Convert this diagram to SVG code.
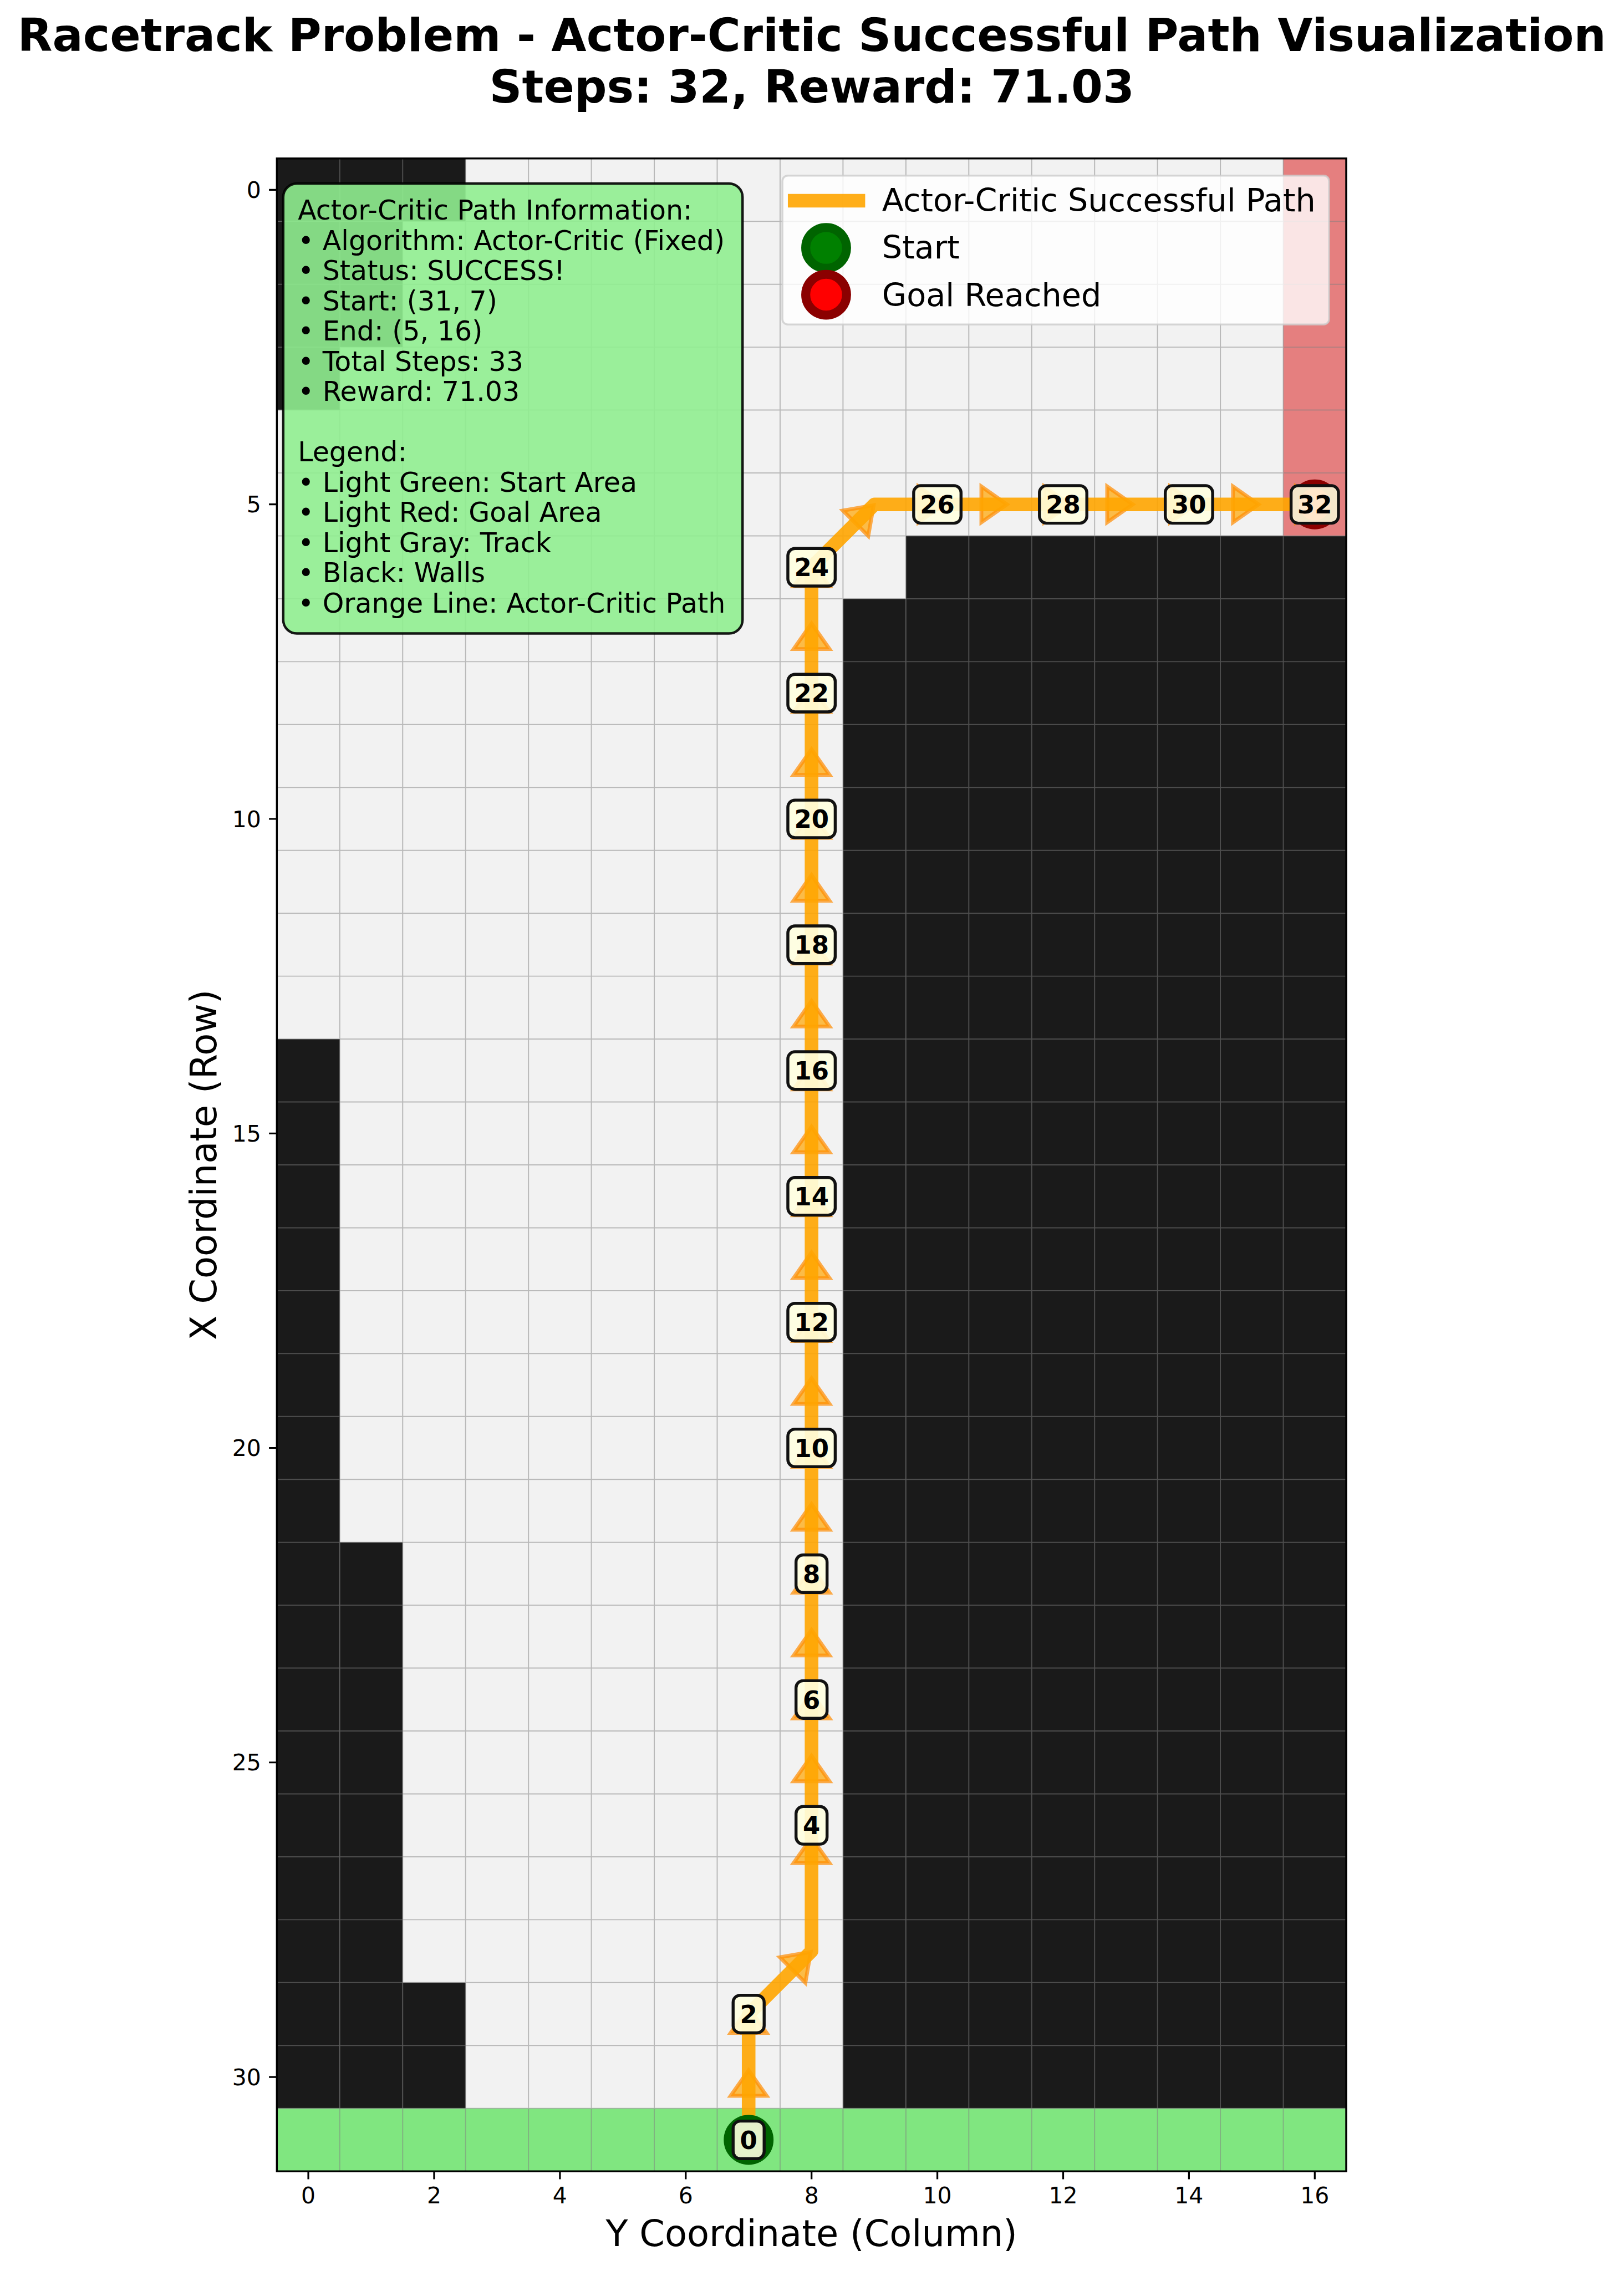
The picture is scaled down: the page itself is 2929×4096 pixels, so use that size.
<svg xmlns="http://www.w3.org/2000/svg" xmlns:xlink="http://www.w3.org/1999/xlink" width="2929" height="4096" viewBox="0 0 2929 4096">
<style>
text{font-family:"DejaVu Sans","Liberation Sans",sans-serif;fill:#000}
.title{font-size:83.3px;font-weight:bold;text-anchor:middle}
.axl{font-size:66.7px;text-anchor:middle}
.tk{font-size:41.7px}
.tky{text-anchor:end}
.tkx{text-anchor:middle}
.wall{fill:#1a1a1a}
.grid{stroke:#808080;stroke-opacity:0.5;stroke-width:2;fill:none}
.tick{stroke:#000;stroke-width:3.3}
.ah{fill:#FFA500;fill-opacity:0.7;stroke:#FF8C00;stroke-opacity:0.7;stroke-width:7;stroke-linejoin:miter}
.path{fill:none;stroke:#FFA500;stroke-opacity:0.9;stroke-width:25;stroke-linejoin:round}
.lb rect{fill:#FFFFE0;fill-opacity:0.9;stroke:#111;stroke-width:5.5}
.lb text{font-size:45.8px;font-weight:bold;text-anchor:middle}
.info{font-size:50px}
.leg{font-size:58.3px}
</style>
<defs>
<path id="ah" d="M0 -33L47 0L0 33Z"/>
</defs>
<rect x="0" y="0" width="2929" height="4096" fill="#fff"/>
<g transform="scale(0.982)">
<g id="title">
<text class="title" x="1491" y="94">Racetrack Problem - Actor-Critic Successful Path Visualization</text>
<text class="title" x="1491" y="188">Steps: 32, Reward: 71.03</text>
</g>
<g id="track">
<rect x="508.5" y="291" width="1964" height="3697" fill="#f2f2f2"/>
<rect class="wall" x="508.5" y="291" width="346.59" height="115.53"/>
<rect class="wall" x="508.5" y="406.53" width="231.06" height="231.06"/>
<rect class="wall" x="508.5" y="637.59" width="115.53" height="115.53"/>
<rect class="wall" x="508.5" y="1908.42" width="115.53" height="1964.01"/>
<rect class="wall" x="624.03" y="2832.66" width="115.53" height="1039.77"/>
<rect class="wall" x="739.56" y="3641.37" width="115.53" height="231.06"/>
<rect class="wall" x="1548.27" y="1099.71" width="115.53" height="2772.72"/>
<rect class="wall" x="1663.8" y="984.18" width="808.71" height="2888.25"/>
<rect id="goal-area" x="2356.98" y="291" width="115.53" height="693.18" fill="#E57F7F"/>
<rect id="start-area" x="508.5" y="3872.43" width="1964.01" height="115.53" fill="#80E680"/>
<path class="grid" d="M624.03 291V3988M739.56 291V3988M855.09 291V3988M970.62 291V3988M1086.15 291V3988M1201.68 291V3988M1317.21 291V3988M1432.74 291V3988M1548.27 291V3988M1663.8 291V3988M1779.33 291V3988M1894.86 291V3988M2010.39 291V3988M2125.92 291V3988M2241.45 291V3988M2356.98 291V3988M508.5 406.53H2472.5M508.5 522.06H2472.5M508.5 637.59H2472.5M508.5 753.12H2472.5M508.5 868.65H2472.5M508.5 984.18H2472.5M508.5 1099.71H2472.5M508.5 1215.24H2472.5M508.5 1330.77H2472.5M508.5 1446.3H2472.5M508.5 1561.83H2472.5M508.5 1677.36H2472.5M508.5 1792.89H2472.5M508.5 1908.42H2472.5M508.5 2023.95H2472.5M508.5 2139.48H2472.5M508.5 2255.01H2472.5M508.5 2370.54H2472.5M508.5 2486.07H2472.5M508.5 2601.6H2472.5M508.5 2717.13H2472.5M508.5 2832.66H2472.5M508.5 2948.19H2472.5M508.5 3063.72H2472.5M508.5 3179.25H2472.5M508.5 3294.78H2472.5M508.5 3410.31H2472.5M508.5 3525.84H2472.5M508.5 3641.37H2472.5M508.5 3756.9H2472.5M508.5 3872.43H2472.5"/>
</g>
<g id="connectors">
<g id="arrowheads">
<use xlink:href="#ah" class="ah" transform="translate(1374.98,3849.33) rotate(-90)"/>
<use xlink:href="#ah" class="ah" transform="translate(1374.98,3733.80) rotate(-90)"/>
<use xlink:href="#ah" class="ah" transform="translate(1455.85,3618.27) rotate(-45)"/>
<use xlink:href="#ah" class="ah" transform="translate(1490.51,3421.87) rotate(-90)"/>
<use xlink:href="#ah" class="ah" transform="translate(1490.51,3271.68) rotate(-90)"/>
<use xlink:href="#ah" class="ah" transform="translate(1490.51,3156.15) rotate(-90)"/>
<use xlink:href="#ah" class="ah" transform="translate(1490.51,3040.62) rotate(-90)"/>
<use xlink:href="#ah" class="ah" transform="translate(1490.51,2925.09) rotate(-90)"/>
<use xlink:href="#ah" class="ah" transform="translate(1490.51,2809.56) rotate(-90)"/>
<use xlink:href="#ah" class="ah" transform="translate(1490.51,2694.03) rotate(-90)"/>
<use xlink:href="#ah" class="ah" transform="translate(1490.51,2578.50) rotate(-90)"/>
<use xlink:href="#ah" class="ah" transform="translate(1490.51,2462.97) rotate(-90)"/>
<use xlink:href="#ah" class="ah" transform="translate(1490.51,2347.44) rotate(-90)"/>
<use xlink:href="#ah" class="ah" transform="translate(1490.51,2231.91) rotate(-90)"/>
<use xlink:href="#ah" class="ah" transform="translate(1490.51,2116.38) rotate(-90)"/>
<use xlink:href="#ah" class="ah" transform="translate(1490.51,2000.85) rotate(-90)"/>
<use xlink:href="#ah" class="ah" transform="translate(1490.51,1885.32) rotate(-90)"/>
<use xlink:href="#ah" class="ah" transform="translate(1490.51,1769.79) rotate(-90)"/>
<use xlink:href="#ah" class="ah" transform="translate(1490.51,1654.26) rotate(-90)"/>
<use xlink:href="#ah" class="ah" transform="translate(1490.51,1538.73) rotate(-90)"/>
<use xlink:href="#ah" class="ah" transform="translate(1490.51,1423.20) rotate(-90)"/>
<use xlink:href="#ah" class="ah" transform="translate(1490.51,1307.67) rotate(-90)"/>
<use xlink:href="#ah" class="ah" transform="translate(1490.51,1192.14) rotate(-90)"/>
<use xlink:href="#ah" class="ah" transform="translate(1490.51,1076.61) rotate(-90)"/>
<use xlink:href="#ah" class="ah" transform="translate(1571.38,961.08) rotate(-45)"/>
<use xlink:href="#ah" class="ah" transform="translate(1686.91,926.42)"/>
<use xlink:href="#ah" class="ah" transform="translate(1802.44,926.42)"/>
<use xlink:href="#ah" class="ah" transform="translate(1917.97,926.42)"/>
<use xlink:href="#ah" class="ah" transform="translate(2033.50,926.42)"/>
<use xlink:href="#ah" class="ah" transform="translate(2149.03,926.42)"/>
<use xlink:href="#ah" class="ah" transform="translate(2264.56,926.42)"/>
<use xlink:href="#ah" class="ah" transform="translate(2380.09,926.42)"/>
</g>
<polyline class="path" points="1374.98,3930.20 1374.98,3699.14 1490.51,3583.61 1490.51,1041.95 1606.04,926.42 2414.75,926.42"/>
</g>
<g id="start-marker"><circle cx="1374.98" cy="3930.20" r="37.5" fill="#008000" stroke="#006400" stroke-width="16.5"/></g>
<g id="goal-marker"><circle cx="2414.75" cy="926.42" r="37.5" fill="#FF0000" stroke="#8B0000" stroke-width="16.5"/></g>
<g id="step-labels" class="lb">
<g id="s0"><rect x="1346.48" y="3895.70" width="57" height="69" rx="13"/><text x="1374.98" y="3946.7">0</text></g>
<g id="s2"><rect x="1346.48" y="3664.64" width="57" height="69" rx="13"/><text x="1374.98" y="3715.64">2</text></g>
<g id="s4"><rect x="1462.01" y="3318.05" width="57" height="69" rx="13"/><text x="1490.51" y="3369.05">4</text></g>
<g id="s6"><rect x="1462.01" y="3086.99" width="57" height="69" rx="13"/><text x="1490.51" y="3137.99">6</text></g>
<g id="s8"><rect x="1462.01" y="2855.93" width="57" height="69" rx="13"/><text x="1490.51" y="2906.93">8</text></g>
<g id="s10"><rect x="1447.01" y="2624.87" width="87" height="69" rx="13"/><text x="1490.51" y="2675.87">10</text></g>
<g id="s12"><rect x="1447.01" y="2393.81" width="87" height="69" rx="13"/><text x="1490.51" y="2444.81">12</text></g>
<g id="s14"><rect x="1447.01" y="2162.75" width="87" height="69" rx="13"/><text x="1490.51" y="2213.75">14</text></g>
<g id="s16"><rect x="1447.01" y="1931.69" width="87" height="69" rx="13"/><text x="1490.51" y="1982.69">16</text></g>
<g id="s18"><rect x="1447.01" y="1700.63" width="87" height="69" rx="13"/><text x="1490.51" y="1751.63">18</text></g>
<g id="s20"><rect x="1447.01" y="1469.57" width="87" height="69" rx="13"/><text x="1490.51" y="1520.57">20</text></g>
<g id="s22"><rect x="1447.01" y="1238.51" width="87" height="69" rx="13"/><text x="1490.51" y="1289.51">22</text></g>
<g id="s24"><rect x="1447.01" y="1007.45" width="87" height="69" rx="13"/><text x="1490.51" y="1058.45">24</text></g>
<g id="s26"><rect x="1678.07" y="891.92" width="87" height="69" rx="13"/><text x="1721.57" y="942.92">26</text></g>
<g id="s28"><rect x="1909.13" y="891.92" width="87" height="69" rx="13"/><text x="1952.63" y="942.92">28</text></g>
<g id="s30"><rect x="2140.19" y="891.92" width="87" height="69" rx="13"/><text x="2183.69" y="942.92">30</text></g>
<g id="s32"><rect x="2371.25" y="891.92" width="87" height="69" rx="13"/><text x="2414.75" y="942.92">32</text></g>
</g>
<g id="axes">
<rect x="508.5" y="291" width="1964" height="3697" fill="none" stroke="#000" stroke-width="3.5"/>
<path class="tick" d="M494 348.77H508.5M494 926.42H508.5M494 1504.07H508.5M494 2081.72H508.5M494 2659.37H508.5M494 3237.02H508.5M494 3814.67H508.5M566.27 3988V4002.5M797.33 3988V4002.5M1028.39 3988V4002.5M1259.45 3988V4002.5M1490.51 3988V4002.5M1721.57 3988V4002.5M1952.63 3988V4002.5M2183.69 3988V4002.5M2414.75 3988V4002.5"/>
<text class="tk tky" x="479.5" y="363.8">0</text>
<text class="tk tky" x="479.5" y="941.4">5</text>
<text class="tk tky" x="479.5" y="1519.1">10</text>
<text class="tk tky" x="479.5" y="2096.7">15</text>
<text class="tk tky" x="479.5" y="2674.4">20</text>
<text class="tk tky" x="479.5" y="3252">25</text>
<text class="tk tky" x="479.5" y="3829.7">30</text>
<text class="tk tkx" x="566.27" y="4047">0</text>
<text class="tk tkx" x="797.33" y="4047">2</text>
<text class="tk tkx" x="1028.39" y="4047">4</text>
<text class="tk tkx" x="1259.45" y="4047">6</text>
<text class="tk tkx" x="1490.51" y="4047">8</text>
<text class="tk tkx" x="1721.57" y="4047">10</text>
<text class="tk tkx" x="1952.63" y="4047">12</text>
<text class="tk tkx" x="2183.69" y="4047">14</text>
<text class="tk tkx" x="2414.75" y="4047">16</text>
<text class="axl" x="1490.5" y="4125">Y Coordinate (Column)</text>
<text class="axl" transform="translate(397,2139.5) rotate(-90)">X Coordinate (Row)</text>
</g>
<g id="info-box">
<rect x="520.2" y="337" width="843.6" height="826.5" rx="25" fill="#90EE90" fill-opacity="0.9" stroke="#000" stroke-opacity="0.9" stroke-width="4.5"/>
<text class="info" x="547">
<tspan x="547" y="403.5">Actor-Critic Path Information:</tspan>
<tspan x="547" y="459">• Algorithm: Actor-Critic (Fixed)</tspan>
<tspan x="547" y="514.5">• Status: SUCCESS!</tspan>
<tspan x="547" y="570">• Start: (31, 7)</tspan>
<tspan x="547" y="625.5">• End: (5, 16)</tspan>
<tspan x="547" y="681">• Total Steps: 33</tspan>
<tspan x="547" y="736.5">• Reward: 71.03</tspan>
<tspan x="547" y="847.5">Legend:</tspan>
<tspan x="547" y="903">• Light Green: Start Area</tspan>
<tspan x="547" y="958.5">• Light Red: Goal Area</tspan>
<tspan x="547" y="1014">• Light Gray: Track</tspan>
<tspan x="547" y="1069.5">• Black: Walls</tspan>
<tspan x="547" y="1125">• Orange Line: Actor-Critic Path</tspan>
</text>
</g>
<g id="legend">
<rect x="1437" y="322.5" width="1004" height="273.5" rx="10" fill="#fff" fill-opacity="0.8" stroke="#cccccc" stroke-opacity="0.8" stroke-width="3.5"/>
<line x1="1447" y1="368.7" x2="1589" y2="368.7" stroke="#FFA500" stroke-opacity="0.9" stroke-width="25"/>
<text class="leg" x="1620" y="388.3">Actor-Critic Successful Path</text>
<circle cx="1517.3" cy="455.3" r="37.5" fill="#008000" stroke="#006400" stroke-width="16.5"/>
<text class="leg" x="1620" y="475">Start</text>
<circle cx="1517.3" cy="541.3" r="37.5" fill="#FF0000" stroke="#8B0000" stroke-width="16.5"/>
<text class="leg" x="1620" y="561.7">Goal Reached</text>
</g>
</g>
</svg>
